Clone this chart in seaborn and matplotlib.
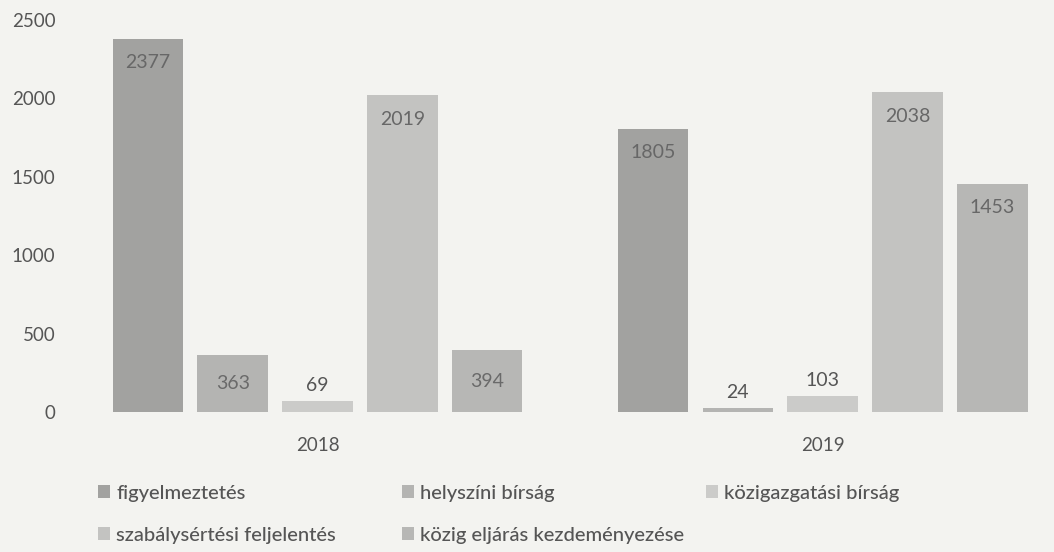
import matplotlib
matplotlib.use("Agg")
import matplotlib.pyplot as plt
import seaborn as sns
import pandas as pd
from matplotlib.patches import Patch

# Data
years = ["2018", "2019"]
categories = [
    "figyelmeztetés",
    "helyszíni bírság",
    "közigazgatási bírság",
    "szabálysértési feljelentés",
    "közig eljárás kezdeményezése",
]
values_2018 = [2377, 363, 69, 2019, 394]
values_2019 = [1805, 24, 103, 2038, 1453]
y_ticks = [0, 500, 1000, 1500, 2000, 2500]

# Styling
bar_colors = ["#a2a2a0", "#b4b4b2", "#cbcbc9", "#c3c3c1", "#b7b7b5"]
bg = "#f3f3f0"
text_color = "#555555"

rows = []
for year, vals in zip(years, [values_2018, values_2019]):
    for cat, v in zip(categories, vals):
        rows.append({"év": year, "kategória": cat, "érték": v})
df = pd.DataFrame(rows)

sns.set_theme(style="white")
plt.rcParams["font.family"] = ["Lato", "DejaVu Sans"]

W, H = 1054, 552
fig = plt.figure(figsize=(W / 100, H / 100), dpi=100, facecolor=bg)
ax = fig.add_axes([65 / W, 1 - 412 / H, (W - 65) / W, (412 - 20) / H])
ax.set_facecolor(bg)

sns.barplot(
    data=df, x="év", y="érték", hue="kategória", hue_order=categories,
    palette=bar_colors, width=0.84, gap=0.17, saturation=1,
    legend=False, ax=ax, edgecolor="none", linewidth=0,
)

ax.set_xlim(-0.5, 1.458)
ax.set_ylim(0, 2500)
ax.set_yticks(y_ticks)
ax.set_yticklabels([str(t) for t in y_ticks])
ax.set_xlabel("")
ax.set_ylabel("")
for s in ax.spines.values():
    s.set_visible(False)
ax.tick_params(axis="y", length=0, pad=7, labelsize=13.5, labelcolor=text_color)
ax.tick_params(axis="x", length=0, pad=18, labelsize=13.5, labelcolor=text_color)

# Value labels
for container in ax.containers:
    for patch in container:
        v = patch.get_height()
        x = patch.get_x() + patch.get_width() / 2
        label = f"{int(round(v))}"
        if v >= 1000:
            ax.annotate(label, (x, v), xytext=(0, -17), textcoords="offset points",
                        ha="center", va="center", fontsize=14, color="#676767")
        elif v >= 300:
            ax.annotate(label, (x, v / 2), ha="center", va="center",
                        fontsize=14, color="#6a6a6a")
        else:
            ax.annotate(label, (x, v), xytext=(0, 5), textcoords="offset points",
                        ha="center", va="bottom", fontsize=14, color=text_color)

# Legend entries laid out on a fixed grid
legend_pos = [(98, 493), (402, 493), (706, 493), (98, 535), (402, 535)]
for cat, col, (px, py) in zip(categories, bar_colors, legend_pos):
    fig.legend(
        handles=[Patch(facecolor=col, edgecolor="none")], labels=[cat],
        loc="center left", bbox_to_anchor=(px / W, 1 - py / H),
        frameon=False, borderpad=0, borderaxespad=0,
        handlelength=0.6, handleheight=0.6, handletextpad=0.3,
        prop={"size": 14.5, "weight": "medium"}, labelcolor=text_color,
    )

fig.savefig("out.png", dpi=100, facecolor=bg)
